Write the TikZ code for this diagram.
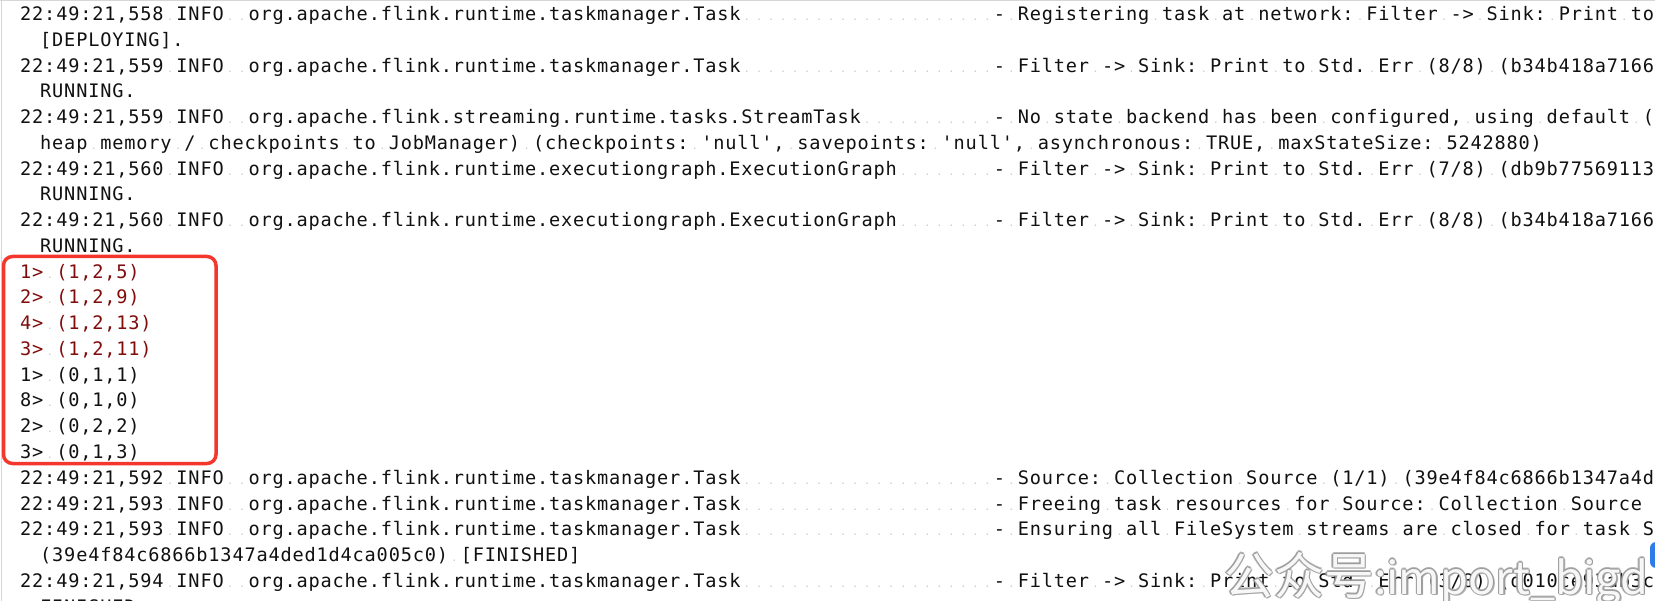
\documentclass[tikz,border=0pt]{standalone}
\usepackage{fontspec}
\newfontfamily\logfont{DejaVu Sans Mono}
\newfontfamily\cjkfont{Noto Sans CJK SC}
\definecolor{logtext}{HTML}{111111}
\definecolor{logred}{HTML}{800C0C}
\definecolor{spdot}{HTML}{C8C8C8}
\definecolor{boxred}{HTML}{F4372C}
\definecolor{wmgray}{HTML}{9C9C9C}
\definecolor{scrollblue}{HTML}{2F7BEA}
\definecolor{edgegray}{HTML}{D6D6D6}
\newlength\cw \setlength\cw{12.02pt}

\ExplSyntaxOn
\str_new:N \l_log_line_str
\cs_new_protected:Npn \log_typeset:
 {
  \str_map_inline:Nn \l_log_line_str
   {
    \str_if_eq:nnTF {##1} {~}
     { \makebox[\cw]{\textcolor{spdot}{\fontsize{10pt}{10pt}\selectfont .}} }
     { \makebox[\cw]{##1} }
   }
 }
\NewDocumentCommand \monoline { m }
 {
  \str_set:Nn \l_log_line_str {#1}
  \log_typeset:
 }
\NewDocumentCommand \logentry { m m m }
 {
  \str_set:Nx \l_log_line_str { #1 \c_space_tl INFO \c_space_tl \c_space_tl #2 }
  \str_put_right:Nx \l_log_line_str
    { \prg_replicate:nn { 62 - \str_count:n {#2} } { \c_space_tl } }
  \str_put_right:Nx \l_log_line_str { - \c_space_tl }
  \str_put_right:Nn \l_log_line_str {#3}
  \log_typeset:
 }
\ExplSyntaxOff

\newcommand\wmtext{{\fontsize{50pt}{56pt}\selectfont 公众号}{\fontsize{45pt}{56pt}\selectfont :import\_bigd}}

\tikzset{
  logtxt/.style={font=\logfont\fontsize{18.6pt}{20pt}\selectfont, text=logtext,
    anchor=base west, inner sep=0pt, outer sep=0pt},
  redtxt/.style={logtxt, text=logred},
  hlbox/.style={draw=boxred, line width=3.5pt, rounded corners=9pt, inner sep=0pt},
  wmtxt/.style={font=\cjkfont, anchor=base west, inner sep=0pt, outer sep=0pt}
}

\begin{document}
\begin{tikzpicture}[x=1pt,y=-1pt]
\useasboundingbox (0,0) rectangle (1655,601);
\clip (0,0) rectangle (1655,601);
\fill[white] (0,0) rectangle (1655,601);
\draw[edgegray, line width=1.2pt] (0,0.6) -- (1655,0.6);
\draw[edgegray, line width=1.2pt] (1.2,0) -- (1.2,601);

\node[logtxt] (l0) at (19.8,20.6) {\logentry{22:49:21,558}{org.apache.flink.runtime.taskmanager.Task}{Registering task at network: Filter -> Sink: Print to}};
\node[logtxt] (l1) at (39.8,46.36) {\monoline{[DEPLOYING].}};
\node[logtxt] (l2) at (19.8,72.12) {\logentry{22:49:21,559}{org.apache.flink.runtime.taskmanager.Task}{Filter -> Sink: Print to Std. Err (8/8) (b34b418a7166}};
\node[logtxt] (l3) at (39.8,97.88) {\monoline{RUNNING.}};
\node[logtxt] (l4) at (19.8,123.64) {\logentry{22:49:21,559}{org.apache.flink.streaming.runtime.tasks.StreamTask}{No state backend has been configured, using default (}};
\node[logtxt] (l5) at (39.8,149.4) {\monoline{heap memory / checkpoints to JobManager) (checkpoints: 'null', savepoints: 'null', asynchronous: TRUE, maxStateSize: 5242880)}};
\node[logtxt] (l6) at (19.8,175.16) {\logentry{22:49:21,560}{org.apache.flink.runtime.executiongraph.ExecutionGraph}{Filter -> Sink: Print to Std. Err (7/8) (db9b77569113}};
\node[logtxt] (l7) at (39.8,200.92) {\monoline{RUNNING.}};
\node[logtxt] (l8) at (19.8,226.68) {\logentry{22:49:21,560}{org.apache.flink.runtime.executiongraph.ExecutionGraph}{Filter -> Sink: Print to Std. Err (8/8) (b34b418a7166}};
\node[logtxt] (l9) at (39.8,252.44) {\monoline{RUNNING.}};

\node[redtxt] (l10) at (19.8,278.2) {\monoline{1> (1,2,5)}};
\node[redtxt] (l11) at (19.8,303.96) {\monoline{2> (1,2,9)}};
\node[redtxt] (l12) at (19.8,329.72) {\monoline{4> (1,2,13)}};
\node[redtxt] (l13) at (19.8,355.48) {\monoline{3> (1,2,11)}};
\node[logtxt] (l14) at (19.8,381.24) {\monoline{1> (0,1,1)}};
\node[logtxt] (l15) at (19.8,407.0) {\monoline{8> (0,1,0)}};
\node[logtxt] (l16) at (19.8,432.76) {\monoline{2> (0,2,2)}};
\node[logtxt] (l17) at (19.8,458.52) {\monoline{3> (0,1,3)}};

\node[logtxt] (l18) at (19.8,484.28) {\logentry{22:49:21,592}{org.apache.flink.runtime.taskmanager.Task}{Source: Collection Source (1/1) (39e4f84c6866b1347a4d}};
\node[logtxt] (l19) at (19.8,510.04) {\logentry{22:49:21,593}{org.apache.flink.runtime.taskmanager.Task}{Freeing task resources for Source: Collection Source}};
\node[logtxt] (l20) at (19.8,535.8) {\logentry{22:49:21,593}{org.apache.flink.runtime.taskmanager.Task}{Ensuring all FileSystem streams are closed for task S}};
\node[logtxt] (l21) at (39.8,561.56) {\monoline{(39e4f84c6866b1347a4ded1d4ca005c0) [FINISHED]}};
\node[logtxt] (l22) at (19.8,587.32) {\logentry{22:49:21,594}{org.apache.flink.runtime.taskmanager.Task}{Filter -> Sink: Print to Std. Err (3/8) (d010ce93ab3c}};
\node[logtxt] (l23) at (39.8,613.08) {\monoline{FINISHED}};

\node[hlbox, minimum width=212.5pt, minimum height=207pt] (hl) at (109.75,360) {};

\fill[scrollblue, rounded corners=6pt] (1650,542) rectangle (1672,568);

\foreach \dx/\dy [count=\i] in {1.3/0,-1.3/0,0/1.3,0/-1.3,0.9/0.9,-0.9/0.9,0.9/-0.9,-0.9/-0.9,1.7/1.7}
  \node[wmtxt, text=wmgray, opacity=0.75] (wm\i) at (1224+\dx,594+\dy) {\wmtext};
\node[wmtxt, text=white, opacity=0.92] (wm) at (1224,594) {\wmtext};
\end{tikzpicture}
\end{document}
